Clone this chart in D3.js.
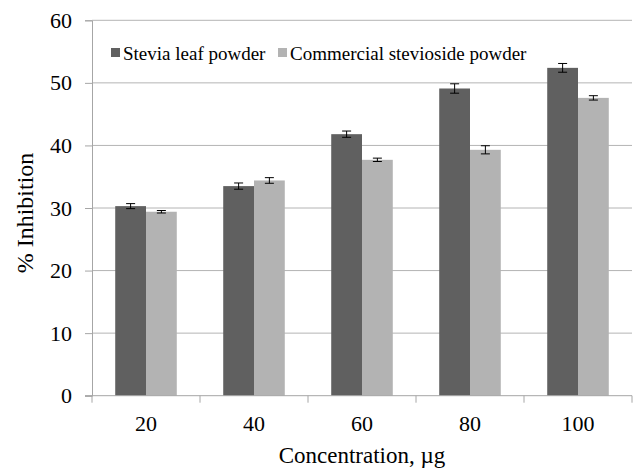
<!DOCTYPE html>
<html>
<head>
<meta charset="utf-8">
<script src="https://cdn.jsdelivr.net/npm/d3@7"></script>
<style>
  body { margin: 0; background: #fff; }
  svg { display: block; }
  text { font-family: "Liberation Serif", "Times New Roman", serif; fill: #000; }
</style>
</head>
<body>
<svg id="chart" width="638" height="469"></svg>
<script>
const categories = ["20", "40", "60", "80", "100"];
const seriesNames = ["Stevia leaf powder", "Commercial stevioside powder"];
const steviaLeaf = [30.3, 33.5, 41.8, 49.1, 52.4];
const steviaLeafErr = [0.4, 0.5, 0.5, 0.75, 0.7];
const commercial = [29.4, 34.4, 37.7, 39.3, 47.6];
const commercialErr = [0.2, 0.45, 0.27, 0.65, 0.35];
const yTicks = [0, 10, 20, 30, 40, 50, 60];
const colors = ["#606060", "#b3b3b3"];

const svg = d3.select("#chart");
const m = { left: 92, right: 632, top: 20.3, bottom: 395.7 };

const x0 = d3.scaleBand().domain(categories).range([m.left, m.right])
  .paddingInner(0.43).paddingOuter(0.215);
const x1 = d3.scaleBand().domain([0, 1]).range([0, x0.bandwidth()]);
const y = d3.scaleLinear().domain([0, 60]).range([m.bottom, m.top]);

// gridlines
svg.append("g").selectAll("line").data(yTicks.filter(d => d > 0)).join("line")
  .attr("x1", m.left).attr("x2", m.right)
  .attr("y1", d => y(d)).attr("y2", d => y(d))
  .attr("stroke", "#b4b4b4").attr("stroke-width", 1);

// y axis
const yAxis = svg.append("g").attr("transform", `translate(${m.left},0)`)
  .call(d3.axisLeft(y).tickValues(yTicks).tickSize(7).tickPadding(13));
yAxis.attr("font-family", null);
yAxis.select(".domain").attr("stroke", "#a6a6a6");
yAxis.selectAll(".tick line").attr("stroke", "#a6a6a6");
yAxis.selectAll(".tick text").attr("font-size", 22).attr("fill", "#000");

// bars
const data = categories.map((c, i) => ({
  c, vals: [
    { s: 0, v: steviaLeaf[i], e: steviaLeafErr[i] },
    { s: 1, v: commercial[i], e: commercialErr[i] }
  ]
}));
const groups = svg.append("g").selectAll("g").data(data).join("g")
  .attr("transform", d => `translate(${x0(d.c)},0)`);
groups.selectAll("rect").data(d => d.vals).join("rect")
  .attr("x", d => x1(d.s)).attr("width", x1.bandwidth())
  .attr("y", d => y(d.v)).attr("height", d => y(0) - y(d.v))
  .attr("fill", d => colors[d.s]);

// error bars
const eb = groups.selectAll("g.err").data(d => d.vals).join("g").attr("class", "err");
eb.append("line")
  .attr("x1", d => x1(d.s) + x1.bandwidth() / 2).attr("x2", d => x1(d.s) + x1.bandwidth() / 2)
  .attr("y1", d => y(d.v + d.e)).attr("y2", d => y(d.v - d.e))
  .attr("stroke", "#000").attr("stroke-width", 1);
[1, -1].forEach(sgn => {
  eb.append("line")
    .attr("x1", d => x1(d.s) + x1.bandwidth() / 2 - 4.5).attr("x2", d => x1(d.s) + x1.bandwidth() / 2 + 4.5)
    .attr("y1", d => y(d.v + sgn * d.e)).attr("y2", d => y(d.v + sgn * d.e))
    .attr("stroke", "#000").attr("stroke-width", 1);
});

// x axis
const xAxisG = svg.append("g").attr("transform", `translate(0,${m.bottom})`);
xAxisG.append("line").attr("x1", m.left - 7).attr("x2", m.right)
  .attr("stroke", "#a6a6a6");
const boundaries = d3.range(categories.length + 1).map(i => m.left + i * x0.step());
xAxisG.selectAll("line.tk").data(boundaries).join("line").attr("class", "tk")
  .attr("x1", d => d).attr("x2", d => d).attr("y1", 0).attr("y2", 7)
  .attr("stroke", "#a6a6a6");
xAxisG.selectAll("text").data(categories).join("text")
  .attr("x", d => x0(d) + x0.bandwidth() / 2).attr("y", 35)
  .attr("text-anchor", "middle").attr("font-size", 22).text(d => d);

// axis titles
svg.append("text").attr("x", (m.left + m.right) / 2).attr("y", 463)
  .attr("text-anchor", "middle").attr("font-size", 23).text("Concentration, µg");
svg.append("text").attr("transform", `translate(33,213) rotate(-90)`)
  .attr("text-anchor", "middle").attr("font-size", 24).text("% Inhibition");

// legend
const legX = [111, 278];
const leg = svg.append("g").selectAll("g").data(seriesNames).join("g")
  .attr("transform", (d, i) => `translate(${legX[i]},48)`);
leg.append("rect").attr("width", 9).attr("height", 9).attr("fill", (d, i) => colors[i]);
leg.append("text").attr("x", 12).attr("y", 12).attr("font-size", 19).text(d => d);
</script>
</body>
</html>
